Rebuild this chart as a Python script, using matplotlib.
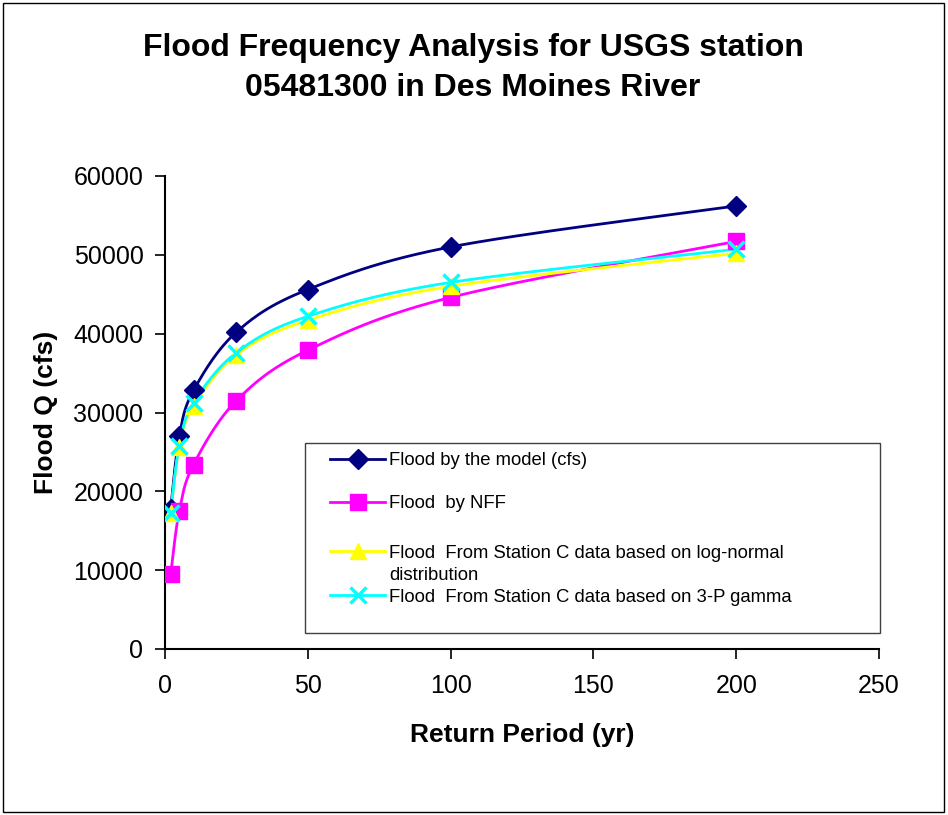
import numpy as np
import matplotlib
matplotlib.use("Agg")
import matplotlib.pyplot as plt
from matplotlib.patches import Rectangle

plt.rcParams['font.family'] = ['Liberation Sans', 'DejaVu Sans']

return_period = [2, 5, 10, 25, 50, 100, 200]
flood_model = [17800, 27000, 32800, 40200, 45600, 51000, 56200]
flood_nff = [9500, 17500, 23400, 31500, 37900, 44600, 51700]
flood_lognormal = [17200, 25600, 30800, 37300, 41700, 46000, 50200]
flood_gamma = [17300, 25800, 31200, 37600, 42200, 46500, 50700]

labels = ["Flood by the model (cfs)",
          "Flood  by NFF",
          "Flood  From Station C data based on log-normal",
          "Flood  From Station C data based on 3-P gamma"]
label_extra = "distribution"

XMAX, YMAX = 250, 60000


def smooth(x, y, n=30):
    # Excel-like smoothed line (Bezier through points) in normalized axis space
    px = np.asarray(x, float) / XMAX
    py = np.asarray(y, float) / YMAX
    P = np.column_stack([px, py])
    P = np.vstack([P[0], P, P[-1]])
    out = []
    for i in range(1, len(P) - 2):
        p0, p1, p2, p3 = P[i - 1], P[i], P[i + 1], P[i + 2]
        c1 = p1 + (p2 - p0) / 6.0
        c2 = p2 - (p3 - p1) / 6.0
        t = np.linspace(0, 1, n)[:, None]
        seg = ((1 - t) ** 3) * p1 + 3 * ((1 - t) ** 2) * t * c1 + 3 * (1 - t) * t ** 2 * c2 + t ** 3 * p2
        out.append(seg if i == 1 else seg[1:])
    out = np.vstack(out)
    return out[:, 0] * XMAX, out[:, 1] * YMAX


W, H = 948, 815
fig = plt.figure(figsize=(W / 100, H / 100), dpi=100)
ax = fig.add_axes([165 / W, 1 - 649 / H, (879 - 165) / W, (649 - 176) / H])

fig.patches.append(Rectangle((3 / W, 3 / H), 941 / W, 809 / H, transform=fig.transFigure,
                             fill=False, edgecolor='black', linewidth=1.0))

series = [
    (flood_model, '#000080', 'D', 10),
    (flood_nff, '#FF00FF', 's', 11),
    (flood_lognormal, '#FFFF00', '^', 11),
    (flood_gamma, '#00FFFF', 'x', 11),
]
handles = []
for ys, col, mk, ms in series:
    sx, sy = smooth(return_period, ys)
    ax.plot(sx, sy, color=col, linewidth=2.0, zorder=3)
    mew = 2.5 if mk == 'x' else 1.0
    ax.plot(return_period, ys, linestyle='none', marker=mk, markersize=ms,
            markeredgewidth=mew, color=col, markeredgecolor=col, zorder=4)
    h, = ax.plot([], [], color=col, linewidth=2.0, marker=mk,
                 markersize=ms, markeredgewidth=mew, markeredgecolor=col)
    handles.append(h)

ax.set_xlim(0, XMAX)
ax.set_ylim(0, YMAX)
ax.set_xticks(np.arange(0, 251, 50))
ax.set_yticks(np.arange(0, 60001, 10000))
ax.spines['top'].set_visible(False)
ax.spines['right'].set_visible(False)
ax.spines['left'].set_linewidth(1.5)
ax.spines['bottom'].set_linewidth(1.5)
ax.tick_params(direction='out', length=7, width=1.2, labelsize=18)
ax.tick_params(axis='y', pad=8.5)
ax.tick_params(axis='x', pad=11)
ax.set_xlabel('Return Period (yr)', fontsize=19, fontweight='bold')
ax.set_ylabel('Flood Q (cfs)', fontsize=19, fontweight='bold')
ax.xaxis.set_label_coords(0.5, -(723 - 649) / 473)
ax.yaxis.set_label_coords(-(165 - 58) / 714, 0.5)

fig.text(473 / W, 1 - 56 / H, 'Flood Frequency Analysis for USGS station',
         ha='center', va='baseline', fontsize=23, fontweight='bold')
fig.text(473 / W, 1 - 96 / H, '05481300 in Des Moines River',
         ha='center', va='baseline', fontsize=23, fontweight='bold')

# legend box
fig.patches.append(Rectangle((305 / W, 1 - 633 / H), (880 - 305) / W, (633 - 443) / H,
                             transform=fig.transFigure, facecolor='white',
                             edgecolor='#404040', linewidth=1.0, zorder=5))
fs_px = 13.3 * 100 / 72
row_y = [461, 504, 553, 597]
for h, lab, yc in zip(handles, labels, row_y):
    leg = fig.legend([h], [lab], loc='center left',
                     bbox_to_anchor=(330 / W, 1 - yc / H),
                     fontsize=13.3, frameon=False, borderpad=0, borderaxespad=0,
                     handlelength=55 / fs_px, handletextpad=4 / fs_px)
    leg.set_zorder(6)
fig.text(389 / W, 1 - 575 / H, label_extra, ha='left', va='center', fontsize=13.3, zorder=6)

fig.savefig('out.png', dpi=100)
